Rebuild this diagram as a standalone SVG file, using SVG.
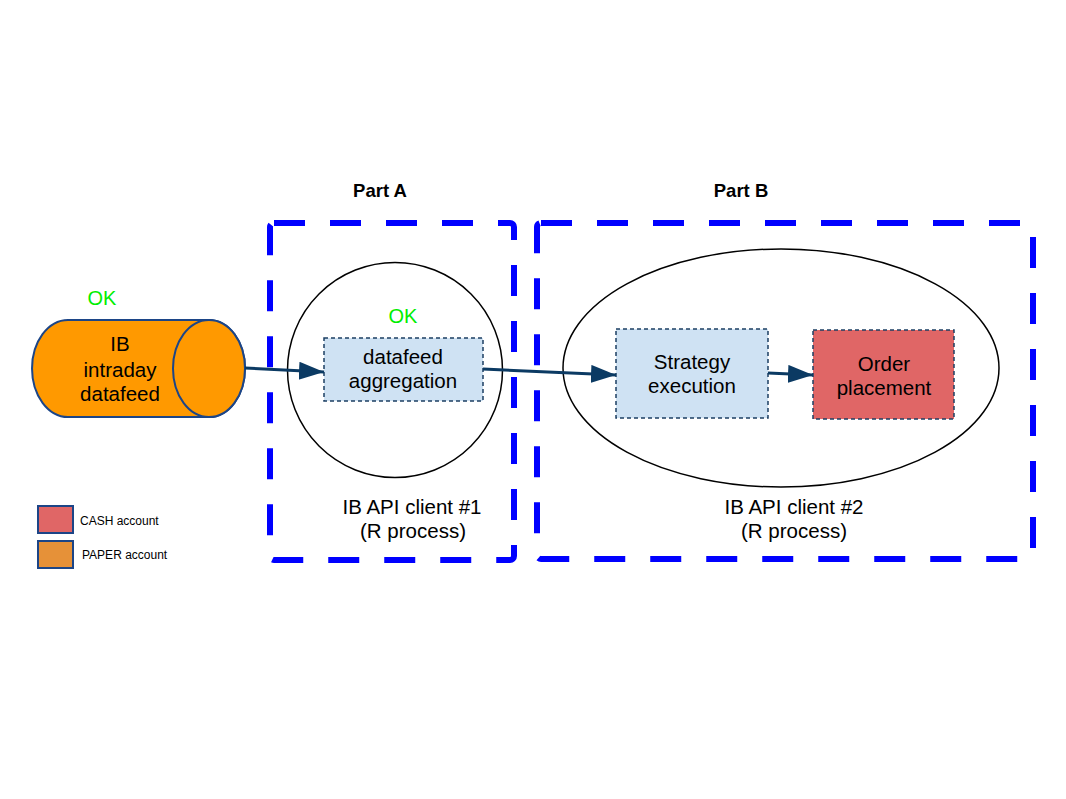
<svg xmlns="http://www.w3.org/2000/svg" width="1066" height="799" viewBox="0 0 1066 799">
<style>
text{font-family:"Liberation Sans",Arial,sans-serif;fill:#000}
.part{fill:none;stroke:#0000ff;stroke-width:6;stroke-dasharray:31 25}
.proc{fill:#fff;stroke:#000;stroke-width:1.5}
.box{stroke:#1c3f63;stroke-width:1.5;stroke-dasharray:4 3}
.conn{fill:none;stroke:#0b3a63;stroke-width:3}
.lbl{font-size:20.5px;text-anchor:middle}
.ok{font-size:20px;fill:#00ee00;text-anchor:middle}
.lg{font-size:12px}
.hdr{font-size:18.5px;font-weight:bold;text-anchor:middle}
</style>
<defs>
<marker id="ah" markerUnits="userSpaceOnUse" markerWidth="26" markerHeight="20" refX="25" refY="9" orient="auto">
<path d="M0,0 L25,9 L0,18 Z" fill="#0b3a63"/>
</marker>
</defs>
<rect width="1066" height="799" fill="#fff"/>
<g id="partA">
<rect class="part" x="270" y="223" width="244" height="337" rx="4"/>
<text class="hdr" x="380" y="197">Part A</text>
</g>
<g id="partB">
<rect class="part" x="537" y="223" width="496" height="336" rx="4"/>
<text class="hdr" x="741" y="197">Part B</text>
</g>
<g id="client1">
<circle class="proc" cx="395" cy="370" r="107.5"/>
<text class="lbl" x="412" y="514">IB API client #1</text>
<text class="lbl" x="413" y="538">(R process)</text>
</g>
<g id="client2">
<ellipse class="proc" cx="781" cy="368" rx="218" ry="119"/>
<text class="lbl" x="794" y="514">IB API client #2</text>
<text class="lbl" x="794" y="538">(R process)</text>
</g>
<g id="datafeed">
<path d="M68,320 L209,320 A36,48.5 0 0 1 209,417 L68,417 A36,48.5 0 0 1 68,320 Z" fill="#ff9900" stroke="#1c4587" stroke-width="2"/>
<ellipse cx="209" cy="368.5" rx="36" ry="48.5" fill="#ff9900" stroke="#1c4587" stroke-width="2"/>
<text class="lbl" x="120" y="351" font-size="22">IB</text>
<text class="lbl" x="120" y="377" font-size="22">intraday</text>
<text class="lbl" x="120" y="401" font-size="22">datafeed</text>
<text class="ok" x="102" y="305">OK</text>
</g>
<g id="aggregation">
<rect class="box" x="324" y="338" width="159" height="63" fill="#cfe2f3"/>
<text class="lbl" x="403" y="364">datafeed</text>
<text class="lbl" x="403" y="388">aggregation</text>
<text class="ok" x="403" y="323">OK</text>
</g>
<g id="strategy">
<rect class="box" x="616" y="329" width="152" height="89" fill="#cfe2f3"/>
<text class="lbl" x="692" y="369">Strategy</text>
<text class="lbl" x="692" y="393">execution</text>
</g>
<g id="order">
<rect class="box" x="813" y="330" width="141" height="89" fill="#e06666"/>
<text class="lbl" x="884" y="371" font-size="22.5">Order</text>
<text class="lbl" x="884" y="395" font-size="22.5">placement</text>
</g>
<g id="legend">
<rect x="38" y="506" width="35" height="27" fill="#e06666" stroke="#1c4587" stroke-width="2"/>
<text class="lg" x="80" y="525">CASH account</text>
<rect x="38" y="541" width="35" height="27" fill="#e69138" stroke="#1c4587" stroke-width="2"/>
<text class="lg" x="82" y="559">PAPER account</text>
</g>
<g id="connectors">
<line class="conn" x1="245" y1="368" x2="324" y2="372" marker-end="url(#ah)"/>
<line class="conn" x1="483" y1="369" x2="616" y2="375" marker-end="url(#ah)"/>
<line class="conn" x1="768" y1="373" x2="813" y2="375" marker-end="url(#ah)"/>
</g>
</svg>
